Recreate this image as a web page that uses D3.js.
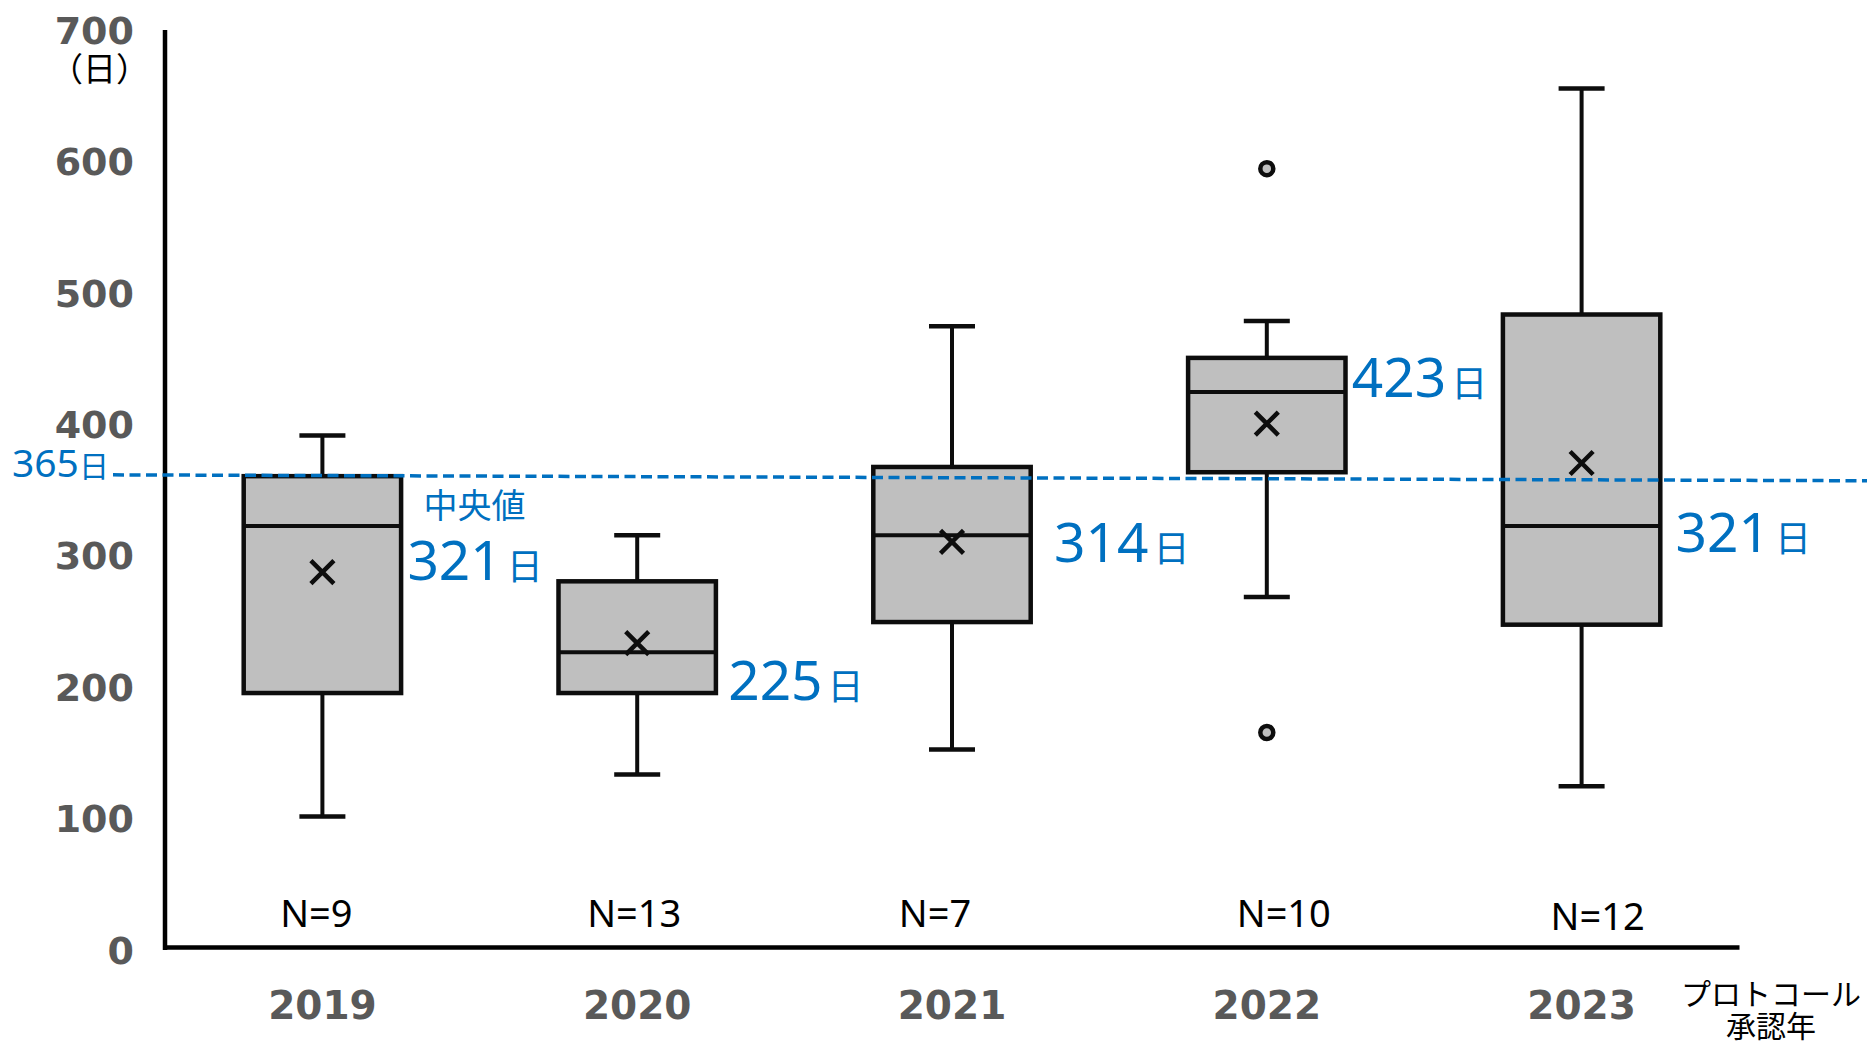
<!DOCTYPE html>
<html>
<head>
<meta charset="utf-8">
<script src="https://cdn.jsdelivr.net/npm/d3@7"></script>
<style>
  html, body { margin: 0; padding: 0; background: #fff; }
  svg { display: block; }
</style>
</head>
<body>
<svg id="chart" width="1873" height="1044"></svg>
<script>
// ---------- data ----------
const years    = ["2019", "2020", "2021", "2022", "2023"];
const mins     = [100, 132, 151, 267, 123];
const q1s      = [194, 194, 248, 362, 246];
const medians  = [321, 225, 314, 423, 321];
const q3s      = [359, 279, 366, 449, 482];
const maxs     = [390, 314, 473, 477, 654];
const means    = [286, 232, 309, 399, 369];
const outliers = [[], [], [], [593, 164], []];
const counts   = [9, 13, 7, 10, 12];
const yTicks   = [0, 100, 200, 300, 400, 500, 600, 700];
const refLabel = "365";
const refLineValues = [360, 355.5];   // drawn reference line (start, end)
const unit = "日";
const yUnitLabel = "（日）";
const xTitle = ["プロトコール", "承認年"];
const medianCaption = "中央値";

// ---------- layout (not data) ----------
const medLabelDx = [85, 91, 102, 85, 94];
const medLabelDy = [54, 48, 27, 5, 26];
const nLabelDx   = [-6, -3, -17, 17, 16];
const nLabelDy   = [0, 0, 0, 0, 3];

const svg = d3.select("#chart");
const x = d3.scaleBand().domain(years).range([165, 1739]).padding(0);
const y = d3.scaleLinear().domain([0, 700]).range([948, 28]);
const bw = x.bandwidth() * 0.5;
const cx = d => x(d) + x.bandwidth() / 2;

const stroke = "#0d0d0d";
const fill = "#bfbfbf";
const blue = "#0070c0";
const grey = "#595959";

const rows = years.map((yr, i) => ({
  yr, i, min: mins[i], q1: q1s[i], med: medians[i], q3: q3s[i], max: maxs[i],
  mean: means[i], out: outliers[i], n: counts[i]
}));

// Y axis
const yAxis = svg.append("g").attr("transform", "translate(165,0)")
  .call(d3.axisLeft(y).tickValues(yTicks).tickSize(0).tickSizeOuter(0).tickPadding(31));
yAxis.select(".domain").attr("stroke", "#000").attr("stroke-width", 4.5)
  .attr("d", `M0,${y(0) + 2}V${y(700) + 2}`);
yAxis.selectAll(".tick text")
  .attr("font-family", "'DejaVu Sans', Verdana, sans-serif")
  .attr("font-weight", "bold").attr("font-size", 38).attr("fill", grey)
  .attr("dy", "0.4em");

// unit under 700
svg.append("text").attr("x", 149).attr("y", y(700) + 53)
  .attr("text-anchor", "end").attr("fill", "#000")
  .attr("font-family", "'Noto Sans CJK JP', sans-serif").attr("font-size", 33)
  .text(yUnitLabel);

// X axis
const xAxis = svg.append("g").attr("transform", `translate(0,${y(0) - 1})`)
  .call(d3.axisBottom(x).tickSize(0).tickSizeOuter(0).tickPadding(44));
xAxis.select(".domain").attr("stroke", "#000").attr("stroke-width", 4.5);
xAxis.selectAll(".tick text")
  .attr("font-family", "'DejaVu Sans', Verdana, sans-serif")
  .attr("font-weight", "bold").attr("font-size", 39).attr("fill", grey);

// x title
const xt = svg.append("text")
  .attr("font-family", "'Noto Sans CJK JP', sans-serif")
  .attr("font-size", 30).attr("fill", "#000").attr("text-anchor", "middle");
xt.append("tspan").attr("x", 1771).attr("y", 1005).text(xTitle[0]);
xt.append("tspan").attr("x", 1771).attr("y", 1037).text(xTitle[1]);

// boxes
const g = svg.append("g");
const box = g.selectAll("g.box").data(rows).join("g").attr("class", "box");

// whiskers
box.append("line")
  .attr("x1", d => cx(d.yr)).attr("x2", d => cx(d.yr))
  .attr("y1", d => y(d.max)).attr("y2", d => y(d.q3))
  .attr("stroke", stroke).attr("stroke-width", 4);
box.append("line")
  .attr("x1", d => cx(d.yr)).attr("x2", d => cx(d.yr))
  .attr("y1", d => y(d.q1)).attr("y2", d => y(d.min))
  .attr("stroke", stroke).attr("stroke-width", 4);
// caps
["max", "min"].forEach(k => {
  box.append("line")
    .attr("x1", d => cx(d.yr) - 23).attr("x2", d => cx(d.yr) + 23)
    .attr("y1", d => y(d[k])).attr("y2", d => y(d[k]))
    .attr("stroke", stroke).attr("stroke-width", 4.5);
});
// box rect
box.append("rect")
  .attr("x", d => cx(d.yr) - bw / 2).attr("width", bw)
  .attr("y", d => y(d.q3)).attr("height", d => y(d.q1) - y(d.q3))
  .attr("fill", fill).attr("stroke", stroke).attr("stroke-width", 4.5);
// median
box.append("line")
  .attr("x1", d => cx(d.yr) - bw / 2).attr("x2", d => cx(d.yr) + bw / 2)
  .attr("y1", d => y(d.med)).attr("y2", d => y(d.med))
  .attr("stroke", stroke).attr("stroke-width", 4);
// mean X
const s = 11.5;
box.append("path")
  .attr("d", d => {
    const X = cx(d.yr), Y = y(d.mean);
    return `M${X - s},${Y - s}L${X + s},${Y + s}M${X - s},${Y + s}L${X + s},${Y - s}`;
  })
  .attr("stroke", stroke).attr("stroke-width", 4.5).attr("fill", "none");
// outliers
box.selectAll("circle").data(d => d.out.map(v => ({ yr: d.yr, v }))).join("circle")
  .attr("cx", d => cx(d.yr)).attr("cy", d => y(d.v)).attr("r", 6.5)
  .attr("fill", fill).attr("stroke", stroke).attr("stroke-width", 4.5);

// reference dashed line
svg.append("line")
  .attr("x1", 113).attr("x2", 1867)
  .attr("y1", y(refLineValues[0])).attr("y2", y(refLineValues[1]))
  .attr("stroke", blue).attr("stroke-width", 3.5).attr("stroke-dasharray", "11,5.5");
const rl = svg.append("text").attr("x", 12).attr("y", y(refLineValues[0]) + 2)
  .attr("font-family", "'Noto Sans', 'Noto Sans CJK JP', sans-serif").attr("fill", blue);
rl.append("tspan").attr("font-size", 39).text(refLabel);
rl.append("tspan").attr("font-size", 30).attr("font-family", "'Noto Sans CJK JP', sans-serif").text(unit);

// median labels
const ml = svg.selectAll("text.med").data(rows).join("text").attr("class", "med")
  .attr("x", d => cx(d.yr) + medLabelDx[d.i])
  .attr("y", d => y(d.med) + medLabelDy[d.i])
  .attr("font-family", "'Noto Sans', 'Noto Sans CJK JP', sans-serif").attr("fill", blue);
ml.append("tspan").attr("font-size", 55).text(d => d.med);
ml.append("tspan").attr("font-size", 36).attr("dx", 5)
  .attr("font-family", "'Noto Sans CJK JP', sans-serif").text(unit);

// 中央値 caption (above first median label)
svg.append("text")
  .attr("x", cx(years[0]) + 152).attr("y", y(medians[0]) - 8)
  .attr("text-anchor", "middle")
  .attr("font-family", "'Noto Sans CJK JP', sans-serif")
  .attr("font-size", 34).attr("fill", blue).text(medianCaption);

// N labels
svg.selectAll("text.n").data(rows).join("text").attr("class", "n")
  .attr("x", d => cx(d.yr) + nLabelDx[d.i])
  .attr("y", d => y(0) - 21 + nLabelDy[d.i])
  .attr("text-anchor", "middle")
  .attr("font-family", "'Noto Sans', sans-serif")
  .attr("font-size", 38).attr("fill", "#000")
  .text(d => "N=" + d.n);
</script>
</body>
</html>
